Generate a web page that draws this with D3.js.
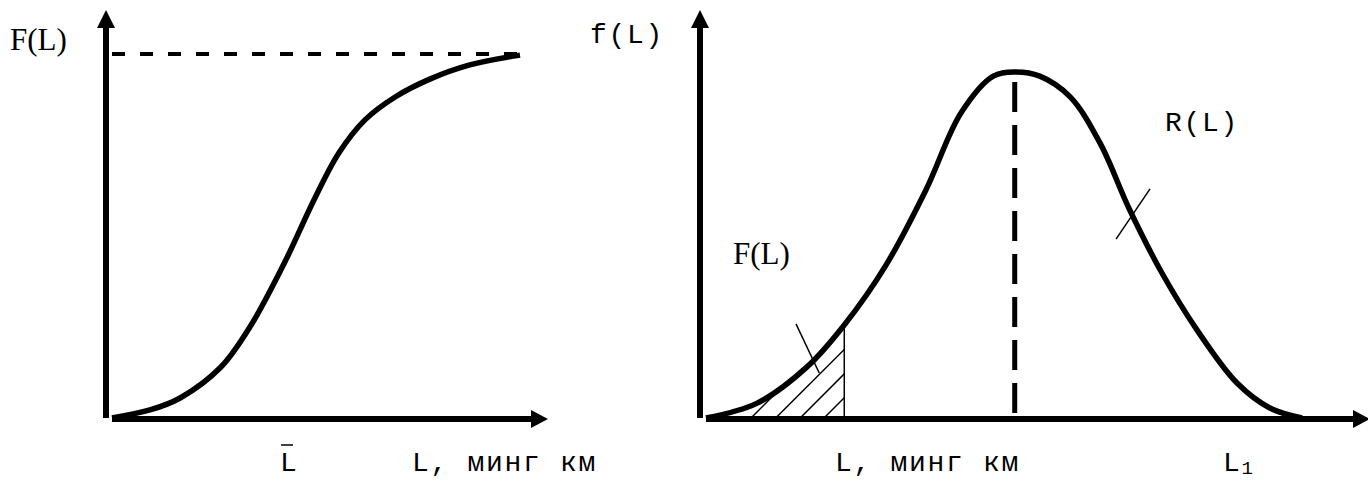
<!DOCTYPE html>
<html lang="uz">
<head>
<meta charset="UTF-8">
<title>F(L) va f(L)</title>
<script src="https://d3js.org/d3.v7.min.js"></script>
<style>
  body { margin: 0; background: #fff; }
  svg { display: block; background: #fff; }
  .mono { font-family: "Liberation Mono", "Courier New", monospace; font-size: 28px; letter-spacing: 1.7px; fill: #000; }
  .serif { font-family: "Liberation Serif", "Times New Roman", serif; font-size: 31px; fill: #000; }
</style>
</head>
<body>
<svg id="chart" width="1368" height="480"></svg>
<script>
// left panel: integral function F(L), L in thousand km
const cdfL = [0, 0.93, 1.67, 2.67, 3.38, 4.26, 4.95, 5.56, 6.20, 6.94, 7.79, 8.77, 10];
const cdfF = [0, 0.022, 0.055, 0.140, 0.250, 0.434, 0.599, 0.728, 0.819, 0.882, 0.931, 0.970, 0.997];
const cdfMax = 1;

// right panel: density f(L)
const pdfL = [0, 0.86, 1.69, 2.32, 3.02, 3.69, 4.28, 4.82, 5.18, 5.60, 6.11, 6.61,
              7.11, 7.65, 8.24, 8.91, 9.46, 10];
const pdfF = [0, 0.043, 0.147, 0.269, 0.442, 0.659, 0.882, 0.988, 1.0, 0.988, 0.928, 0.795,
              0.601, 0.419, 0.254, 0.101, 0.029, 0];
const meanL = 5.18;
const hatchEnd = 2.32;
const hatchStarts = [0.755, 1.17, 1.58, 1.98];
// little leader strokes across the curve: [L1, f1, L2, f2]
const leaders = [[1.51, 0.272, 1.90, 0.130], [7.45, 0.662, 6.88, 0.517]];

// labels
const leftLabels = { yName: "F(L)", mean: "L", xName: "L, минг км" };
const rightLabels = { yName: "f(L)", cdf: "F(L)", rel: "R(L)", xName: "L, минг км", limit: "L", limitSub: "1" };

const svg = d3.select("#chart");
const black = "#000";

const xF = d3.scaleLinear().domain([0, 10]).range([112, 520]);
const yF = d3.scaleLinear().domain([0, 1]).range([418, 54]);
const xf = d3.scaleLinear().domain([0, 10]).range([706, 1302]);
const yf = d3.scaleLinear().domain([0, 1]).range([418, 72]);
const curve = d3.curveCatmullRom.alpha(0.5);

function drawAxes(yAxisX, xStart, baseY, xTip) {
    const g = svg.append("g");
    g.append("line")
        .attr("x1", yAxisX).attr("y1", baseY)
        .attr("x2", yAxisX).attr("y2", 26)
        .attr("stroke", black).attr("stroke-width", 6);
    g.append("path")
        .attr("d", `M${yAxisX},10 L${yAxisX - 9},28 L${yAxisX + 9},28 Z`)
        .attr("fill", black);
    g.append("line")
        .attr("x1", xStart).attr("y1", baseY + 1)
        .attr("x2", xTip - 15).attr("y2", baseY + 1)
        .attr("stroke", black).attr("stroke-width", 6);
    g.append("path")
        .attr("d", `M${xTip},${baseY + 1} L${xTip - 17},${baseY - 8} L${xTip - 17},${baseY + 10} Z`)
        .attr("fill", black);
}

// ---- left panel
drawAxes(xF(0) - 6, xF(0), yF(0), 548);

svg.append("line")
    .attr("x1", xF(0)).attr("x2", xF(10))
    .attr("y1", yF(cdfMax)).attr("y2", yF(cdfMax))
    .attr("stroke", black).attr("stroke-width", 4)
    .attr("stroke-dasharray", "13,15");

const cdfData = cdfL.map((d, i) => [d, cdfF[i]]);
svg.append("path")
    .datum(cdfData)
    .attr("d", d3.line().x(d => xF(d[0])).y(d => yF(d[1])).curve(curve))
    .attr("fill", "none").attr("stroke", black).attr("stroke-width", 5.5);

svg.append("text").attr("class", "serif").attr("x", 10).attr("y", 50).text(leftLabels.yName);
const meanLabel = svg.append("text").attr("class", "mono").attr("x", 280).attr("y", 471).text(leftLabels.mean);
const mb = meanLabel.node().getBBox();
svg.append("line")
    .attr("x1", mb.x + 1).attr("x2", mb.x + 13)
    .attr("y1", 445).attr("y2", 445)
    .attr("stroke", black).attr("stroke-width", 1.5);
svg.append("text").attr("class", "mono").attr("x", 412).attr("y", 471).text(leftLabels.xName);

// ---- right panel
drawAxes(xf(0) - 6, xf(0), yf(0), 1370);

const pdfData = pdfL.map((d, i) => [d, pdfF[i]]);
const pdfLine = d3.line().x(d => xf(d[0])).y(d => yf(d[1])).curve(curve);

// hatched area under the curve up to hatchEnd
svg.append("clipPath").attr("id", "underCurve")
    .append("path")
    .datum(pdfData)
    .attr("d", d3.area().x(d => xf(d[0])).y0(yf(0)).y1(d => yf(d[1])).curve(curve));
svg.append("clipPath").attr("id", "leftOfEnd")
    .append("rect")
    .attr("x", xf(0)).attr("y", 0)
    .attr("width", xf(hatchEnd) - xf(0)).attr("height", yf(0));

svg.append("g").attr("clip-path", "url(#leftOfEnd)")
    .append("g").attr("clip-path", "url(#underCurve)")
    .selectAll("line").data(hatchStarts).join("line")
    .attr("x1", d => xf(d)).attr("y1", yf(0))
    .attr("x2", d => xf(d) + 160).attr("y2", yf(0) - 160)
    .attr("stroke", black).attr("stroke-width", 1.5);

const hatchTop = pdfF[pdfL.indexOf(hatchEnd)];
svg.append("line")
    .attr("x1", xf(hatchEnd)).attr("x2", xf(hatchEnd))
    .attr("y1", yf(hatchTop)).attr("y2", yf(0))
    .attr("stroke", black).attr("stroke-width", 1.5);

svg.append("line")
    .attr("x1", xf(meanL)).attr("x2", xf(meanL))
    .attr("y1", yf(1) + 10).attr("y2", yf(0))
    .attr("stroke", black).attr("stroke-width", 5)
    .attr("stroke-dasharray", "30,13");

svg.append("path")
    .datum(pdfData)
    .attr("d", pdfLine)
    .attr("fill", "none").attr("stroke", black).attr("stroke-width", 5.5);

svg.selectAll(".leader").data(leaders).join("line")
    .attr("class", "leader")
    .attr("x1", d => xf(d[0])).attr("y1", d => yf(d[1]))
    .attr("x2", d => xf(d[2])).attr("y2", d => yf(d[3]))
    .attr("stroke", black).attr("stroke-width", 1.5);

svg.append("text").attr("class", "mono").attr("x", 590).attr("y", 43).text(rightLabels.yName);
svg.append("text").attr("class", "serif").attr("x", 733).attr("y", 264).text(rightLabels.cdf);
svg.append("text").attr("class", "mono").attr("x", 1165).attr("y", 131).text(rightLabels.rel);
svg.append("text").attr("class", "mono").attr("x", 835).attr("y", 471).text(rightLabels.xName);
const lim = svg.append("text").attr("class", "mono").attr("x", 1223).attr("y", 471);
lim.append("tspan").text(rightLabels.limit);
lim.append("tspan").attr("font-size", 19).attr("dy", 3).text(rightLabels.limitSub);
</script>
</body>
</html>
